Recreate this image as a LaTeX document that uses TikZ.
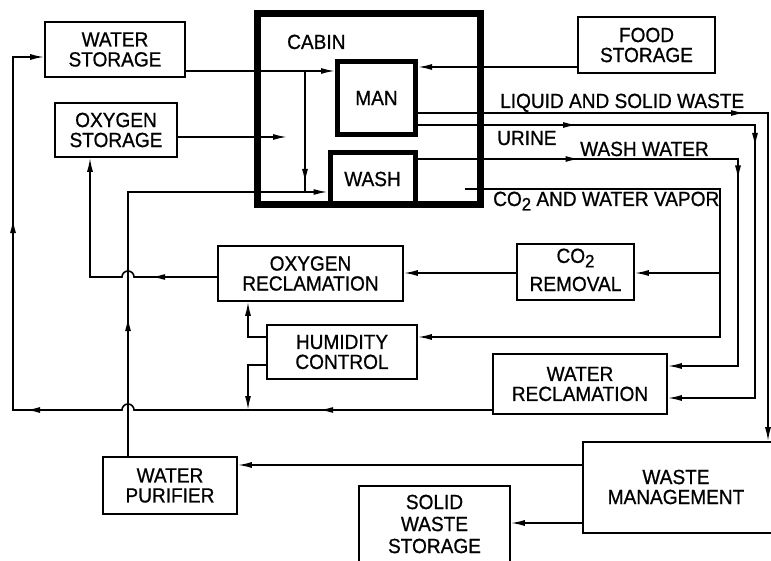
\documentclass[tikz,border=0pt]{standalone}
\usepackage{fontspec}
\setmainfont{Liberation Sans}[FakeStretch=0.93,FakeBold=0.8]
\usetikzlibrary{arrows.meta,decorations.markings,calc}
\newcommand{\cotwo}{CO\raisebox{-4.5pt}{\fontsize{18}{18}\selectfont 2}}
\tikzset{
  every node/.style={font=\fontsize{20.5}{20}\selectfont, inner sep=0pt},
  blk/.style={draw, line width=1.6pt, rectangle, align=center},
  ln/.style={line width=1.6pt},
  tip/.style={-{Latex[length=14pt,width=6pt]}},
  midtip/.style={postaction={decorate, decoration={markings, mark=at position #1 with {\arrow{Latex[length=14pt,width=6pt]}}}}},
  lbl/.style={anchor=base west},
}
\begin{document}
\begin{tikzpicture}[x=1pt,y=-1pt]
\useasboundingbox (0,0) rectangle (771,561);
\clip (0,0) rectangle (771,561);

% levels and columns
\coordinate (h57) at (0,57);
\coordinate (h67) at (0,67);
\coordinate (h71) at (0,71);
\coordinate (h113) at (0,113);
\coordinate (h125) at (0,125);
\coordinate (h137) at (0,137);
\coordinate (h159) at (0,159);
\coordinate (h192) at (0,192);
\coordinate (h273) at (0,273);
\coordinate (h277) at (0,277);
\coordinate (h337) at (0,337);
\coordinate (h365) at (0,365);
\coordinate (h366) at (0,366);
\coordinate (h398) at (0,398);
\coordinate (h410) at (0,410);
\coordinate (h465) at (0,465);
\coordinate (h523) at (0,523);
\coordinate (v13) at (13,0);
\coordinate (v90) at (90,0);
\coordinate (v128) at (128,0);
\coordinate (v248) at (248,0);
\coordinate (v305) at (305,0);
\coordinate (v720) at (720,0);
\coordinate (v738) at (738,0);
\coordinate (v755) at (755,0);
\coordinate (v768) at (768,0);
\coordinate (oxin) at (287,137);
\coordinate (cvs) at (465,189);

% cabin
\node[draw, line width=7pt, minimum width=223pt, minimum height=191pt] (cabin) at (368.5,109.5) {};
\node[lbl] (cabinlbl) at (287,49) {CABIN};
\node[draw, line width=5pt, minimum width=78pt, minimum height=73pt] (man) at (376.5,98) {MAN};
\node[draw, line width=5pt, minimum width=85pt, minimum height=52pt] (wash) at (372.5,179) {WASH};

% boxes
\node[blk, minimum width=140pt, minimum height=55pt] (ws) at (115,49.5) {WATER\\STORAGE};
\node[blk, minimum width=122pt, minimum height=54pt] (os) at (116,130) {OXYGEN\\STORAGE};
\node[blk, minimum width=137pt, minimum height=56pt] (fs) at (646.5,45) {FOOD\\STORAGE};
\node[blk, minimum width=185pt, minimum height=55pt] (oxr) at (310.5,273.5) {OXYGEN\\RECLAMATION};
\node[blk, minimum width=117pt, minimum height=56pt] (co2r) at (575.5,272) {};
\node[align=center] (co2t) at (575.5,258) {\cotwo};
\node[align=center] (co2u) at (575.5,284) {REMOVAL};
\node[blk, minimum width=150pt, minimum height=54pt] (hum) at (342,352) {HUMIDITY\\CONTROL};
\node[blk, minimum width=174pt, minimum height=60pt] (wr) at (580,384) {WATER\\RECLAMATION};
\node[blk, minimum width=194pt, minimum height=91pt] (wm) at (680,487.5) {};
\node[align=center] (wmtext) at (676,487) {WASTE\\MANAGEMENT};
\node[blk, minimum width=134pt, minimum height=57pt] (wp) at (170,485.5) {WATER\\PURIFIER};
\node[blk, minimum width=151pt, minimum height=88pt] (sws) at (434.5,530) {};
\node[align=center, font=\fontsize{20.5}{22}\selectfont] (swstext) at (434.5,524) {SOLID\\WASTE\\STORAGE};

% flow labels
\node[lbl] (liq) at (500,108) {LIQUID AND SOLID WASTE};
\node[lbl] (uri) at (497,145) {URINE};
\node[lbl] (wwl) at (580,156) {WASH WATER};
\node[lbl] (cvl) at (493,206) {\cotwo{} AND WATER VAPOR};

% connectors
\draw[ln,tip] (ws.east |- h71) -- (man.west |- h71);
\draw[ln,midtip=-9pt] (v305 |- h71) -- (v305 |- h192);
\draw[ln,tip] (os.east |- h137) -- (oxin);
\draw[ln,tip] (fs.west |- h67) -- (man.east |- h67);
\draw[ln,midtip=327pt,tip] (man.east |- h113) -- (v768 |- h113) -- (v768 |- wm.north);
\draw[ln,midtip=159pt,midtip=359pt,tip] (man.east |- h125) -- (v755 |- h125) -- (v755 |- h398) -- (wr.east |- h398);
\draw[ln,midtip=162pt,midtip=341pt,tip] (wash.east |- h159) -- (v738 |- h159) -- (v738 |- h366) -- (wr.east |- h366);
\draw[ln,tip] (cvs) -- (v720 |- cvs) -- (v720 |- h337) -- (hum.east |- h337);
\draw[ln,tip] (v720 |- h273) -- (co2r.east |- h273);
\draw[ln,tip] (co2r.west |- h273) -- (oxr.east |- h273);
\draw[ln,midtip=66pt,tip] (oxr.west |- h277) -- ($(v128 |- h277)+(6,0)$) arc[start angle=0,end angle=180,radius=6pt] -- (v90 |- h277) -- (v90 |- os.south);
\draw[ln,tip] (hum.west |- h337) -- (v248 |- h337) -- (v248 |- oxr.south);
\draw[ln,tip] (hum.west |- h365) -- (v248 |- h365) -- (v248 |- h410);
\draw[ln,midtip=173pt,midtip=473pt,midtip=677pt,tip] (wr.west |- h410) -- ($(v128 |- h410)+(6,0)$) arc[start angle=0,end angle=180,radius=6pt] -- (v13 |- h410) -- (v13 |- h57) -- (ws.west |- h57);
\draw[ln,midtip=139pt,tip] (v128 |- wp.north) -- (v128 |- h192) -- (wash.west |- h192);
\draw[ln,tip] (wm.west |- h465) -- (wp.east |- h465);
\draw[ln,tip] (wm.west |- h523) -- (sws.east |- h523);
\end{tikzpicture}
\end{document}
